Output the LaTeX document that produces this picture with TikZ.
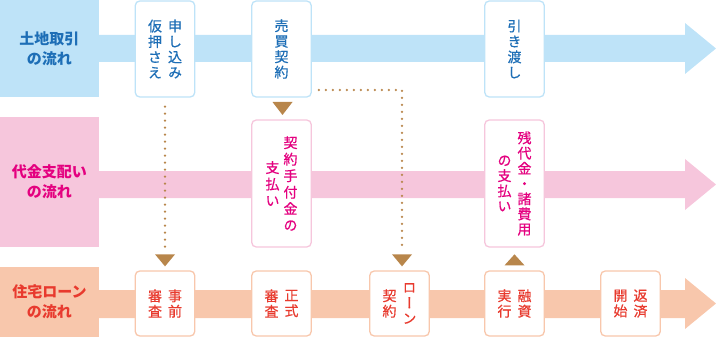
\documentclass[tikz,border=0pt]{standalone}
\usepackage{fontspec}
\newfontfamily\jpv{Noto Sans CJK JP}[RawFeature=+vert,FakeBold=0.6]
\newfontfamily\jph{Noto Sans CJK JP}
\usetikzlibrary{calc}
\definecolor{bluef}{RGB}{190,227,248}
\definecolor{bluet}{RGB}{29,110,182}
\definecolor{pinkf}{RGB}{246,198,220}
\definecolor{pinkt}{RGB}{228,0,127}
\definecolor{orangef}{RGB}{248,199,172}
\definecolor{oranget}{RGB}{232,58,46}
\definecolor{dotc}{RGB}{184,134,75}
\newcommand\vcol[2][15.5pt]{$\vcenter{\baselineskip=#1\lineskiplimit=-30pt\lineskip=0pt\halign{\hfil##\hfil\cr#2\crcr}}$}
\newcommand\cgap{\hspace{6pt}}
\begin{document}
\begin{tikzpicture}[x=1pt,y=-1pt,
  lab/.style={anchor=north west, inner sep=0pt, outer sep=0pt, minimum width=99pt, align=center, font=\jph\bfseries\fontsize{15}{20}\selectfont},
  sbox/.style={draw, fill=white, line width=1.3pt, rounded corners=4.5pt, inner sep=0pt, minimum width=59.5pt, font=\jpv\fontsize{14}{15.5}\selectfont},
  bluebox/.style={sbox, draw=bluef, text=bluet, minimum height=96pt},
  pinkbox/.style={sbox, draw=pinkf, text=pinkt, minimum height=127pt},
  orangebox/.style={sbox, draw=orangef, text=oranget, minimum height=65pt},
  dots/.style={draw=dotc, line width=2.6pt, line cap=round, dash pattern=on 0pt off 7pt},
  tri/.style={fill=dotc}
]
\useasboundingbox (0,0) rectangle (716,337);
% bands
\fill[bluef] (98,35) -- (685,35) -- (685,23) -- (716,48.5) -- (685,74) -- (685,62) -- (98,62) -- cycle;
\fill[pinkf] (98,171) -- (685,171) -- (685,159) -- (716,184.5) -- (685,210) -- (685,198) -- (98,198) -- cycle;
\fill[orangef] (98,290) -- (685,290) -- (685,278) -- (716,303.5) -- (685,329) -- (685,318) -- (98,318) -- cycle;
% labels
\node[lab, fill=bluef, text=bluet, minimum height=97pt] (l1) at (0,0) {土地取引\\の流れ};
\node[lab, fill=pinkf, text=pinkt, minimum height=130pt] (l2) at (0,117) {代金支配い\\の流れ};
\node[lab, fill=orangef, text=oranget, minimum height=70pt] (l3) at (0,267) {住宅ローン\\の流れ};
% row 1
\node[bluebox] (b1) at (165,49) {\vcol{仮\cr 押\cr さ\cr え}\cgap\vcol{申\cr し\cr 込\cr み}};
\node[bluebox] (b2) at (281.5,49) {\vcol{売\cr 買\cr 契\cr 約}};
\node[bluebox] (b3) at (514.5,49) {\vcol{引\cr き\cr 渡\cr し}};
% row 2
\node[pinkbox] (c1) at (281.5,183.5) {\vcol[16.5pt]{支\cr 払\cr い}\hspace{4pt}\vcol[16.5pt]{契\cr 約\cr 手\cr 付\cr 金\cr の}};
\node[pinkbox] (c2) at (514.5,183.5) {\vcol[15.2pt]{の\cr 支\cr 払\cr い}\cgap\vcol[15.2pt]{残\cr 代\cr 金\cr ・\cr 諸\cr 費\cr 用}};
% row 3
\node[orangebox] (d1) at (165,303.5) {\vcol{審\cr 査}\cgap\vcol{事\cr 前}};
\node[orangebox] (d2) at (281.5,303.5) {\vcol{審\cr 査}\cgap\vcol{正\cr 式}};
\node[orangebox] (d3) at (399.5,303.5) {\vcol{契\cr 約}\cgap\vcol{ロ\cr ー\cr ン}};
\node[orangebox] (d4) at (514.5,303.5) {\vcol{実\cr 行}\cgap\vcol{融\cr 資}};
\node[orangebox] (d5) at (630.5,303.5) {\vcol{開\cr 始}\cgap\vcol{返\cr 済}};
% triangles
\coordinate (t0) at ($(b2.south)!0.5!(c1.north)+(1,0)$);
\coordinate (t1) at ($(d1.north)+(0,-10)$);
\coordinate (t2) at ($(d3.north)+(2.5,-10)$);
\coordinate (t3) at ($(d4.north)+(0,-10)$);
\fill[tri] (t0) ++(-10,-6.5) -- ++(20,0) -- ++(-10,13) -- cycle;
\fill[tri] (t1) ++(-10,-6) -- ++(20,0) -- ++(-10,12) -- cycle;
\fill[tri] (t2) ++(-10,-6) -- ++(20,0) -- ++(-10,12) -- cycle;
\fill[tri] (t3) ++(-10,5) -- ++(20,0) -- ++(-10,-11) -- cycle;
% dotted connectors
\coordinate (p1) at ($(b2.east)+(7,41)$);
\draw[dots] ($(b1.south)+(0,9)$) -- ($(t1)+(0,-11)$);
\draw[dots] (p1) -| ($(t2)+(0,-11)$);
\end{tikzpicture}
\end{document}
